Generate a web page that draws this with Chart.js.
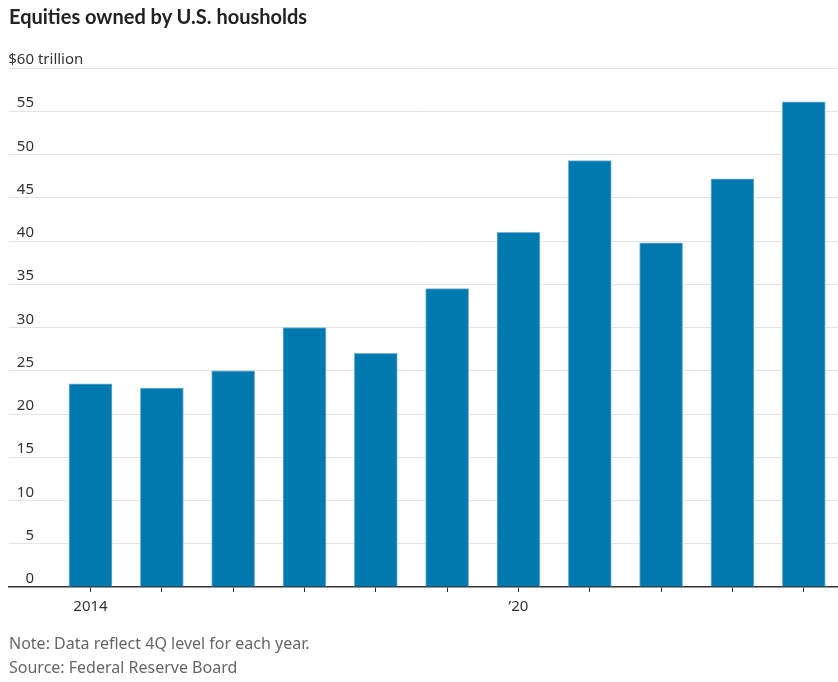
<!DOCTYPE html>
<html>
<head>
<meta charset="utf-8">
<script src="https://cdn.jsdelivr.net/npm/chart.js@4.4.0/dist/chart.umd.min.js"></script>
<style>
  html, body { margin: 0; padding: 0; background: #fff; }
  #wrap { position: relative; width: 838px; height: 682px; overflow: hidden; }
  #chart { position: absolute; left: 0; top: 0; }
  .title { position: absolute; left: 9px; top: 4px; font: bold 20px Lato, sans-serif; line-height: 1.2; color: #222; white-space: nowrap; }
  .note { position: absolute; left: 9px; font: 16px "Noto Sans", sans-serif; line-height: 20px; color: #666; white-space: nowrap; }
</style>
</head>
<body>
<div id="wrap">
  <canvas id="chart" width="838" height="682"></canvas>
  <div class="title">Equities owned by U.S. housholds</div>
  <div class="note" style="top:633px">Note: Data reflect 4Q level for each year.</div>
  <div class="note" style="top:657px">Source: Federal Reserve Board</div>
</div>
<script>
// --- Data ---
const years = [2014, 2015, 2016, 2017, 2018, 2019, 2020, 2021, 2022, 2023, 2024];
const equities = [23.5, 23.0, 25.0, 30.0, 27.0, 34.5, 41.0, 49.3, 39.8, 47.2, 56.1];
const yTicks = [0, 5, 10, 15, 20, 25, 30, 35, 40, 45, 50, 55, 60];
const xLabels = { 2014: '2014', 2020: '\u201920' };

const tickFont = '15px "Noto Sans", sans-serif';

// y labels sit above their gridline, right-aligned at the left edge
const yLabelPlugin = {
    id: 'yLabels',
    afterDraw(chart) {
        const ctx = chart.ctx;
        const y = chart.scales.y;
        ctx.save();
        ctx.font = tickFont;
        ctx.fillStyle = '#333';
        ctx.textBaseline = 'alphabetic';
        yTicks.forEach(v => {
            const py = y.getPixelForValue(v) - 4;
            const num = v === 60 ? '$60' : String(v);
            const w = ctx.measureText(num).width;
            ctx.textAlign = 'left';
            ctx.fillText(v === 60 ? '$60 trillion' : num, 34 - w, py);
        });
        ctx.restore();
    }
};

new Chart(document.getElementById('chart'), {
    type: 'bar',
    data: {
        datasets: [{
            data: years.map((yr, i) => ({ x: yr, y: equities[i] })),
            backgroundColor: '#0079ae',
            borderColor: '#79b3d3',
            borderWidth: 1,
            barThickness: 43
        }]
    },
    options: {
        responsive: false,
        animation: false,
        layout: { padding: { left: 9, right: 0, top: 68, bottom: 55 } },
        plugins: { legend: { display: false }, tooltip: { enabled: false } },
        scales: {
            x: {
                type: 'linear',
                min: 2012.857,
                max: 2024.48,
                offset: false,
                afterBuildTicks(scale) { scale.ticks = years.map(v => ({ value: v })); },
                afterFit(scale) { scale.height = 40; },
                border: { display: true, color: '#333', width: 1.5 },
                grid: { offset: false, drawOnChartArea: false, drawTicks: true, tickLength: 5, color: '#333' },
                ticks: {
                    autoSkip: false,
                    maxRotation: 0,
                    padding: 6,
                    color: '#333',
                    font: { family: 'Noto Sans', size: 15 },
                    callback: v => xLabels[v] || ''
                }
            },
            y: {
                min: 0,
                max: 60,
                afterBuildTicks(scale) { scale.ticks = yTicks.map(v => ({ value: v })); },
                afterFit(scale) { scale.width = 0; },
                border: { display: false },
                grid: {
                    drawTicks: false,
                    color: ctx => ctx.tick && ctx.tick.value === 0 ? 'rgba(0,0,0,0)' : '#e4e4e4',
                    lineWidth: 1
                },
                ticks: { display: false }
            }
        }
    },
    plugins: [yLabelPlugin]
});
</script>
</body>
</html>
